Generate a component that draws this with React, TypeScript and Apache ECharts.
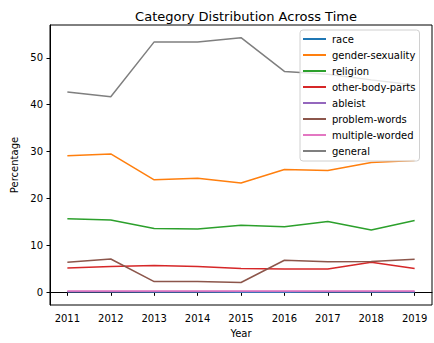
import React, { useEffect, useRef } from "react";
import * as echarts from "echarts";

const years = [2011, 2012, 2013, 2014, 2015, 2016, 2017, 2018, 2019];
const seriesNames = ["race", "gender-sexuality", "religion", "other-body-parts", "ableist", "problem-words", "multiple-worded", "general"];
const race = [0.1, 0.1, 0.05, 0.05, 0.0, 0.0, 0.05, 0.05, 0.05];
const genderSexuality = [29.1, 29.5, 24.0, 24.3, 23.3, 26.2, 26.0, 27.7, 28.1];
const religion = [15.7, 15.4, 13.6, 13.5, 14.3, 14.0, 15.1, 13.3, 15.3];
const otherBodyParts = [5.2, 5.5, 5.7, 5.5, 5.1, 5.0, 5.0, 6.4, 5.1];
const ableist = [0.2, 0.2, 0.2, 0.2, 0.2, 0.2, 0.2, 0.2, 0.2];
const problemWords = [6.4, 7.1, 2.3, 2.3, 2.1, 6.85, 6.5, 6.6, 7.07];
const multipleWorded = [0.3, 0.3, 0.3, 0.3, 0.3, 0.3, 0.3, 0.3, 0.3];
const general = [42.7, 41.7, 53.4, 53.4, 54.3, 47.1, 46.5, 45.3, 44.2];
const yTicks = [0, 10, 20, 30, 40, 50];
const colors = ["#1f77b4", "#ff7f0e", "#2ca02c", "#d62728", "#9467bd", "#8c564b", "#e377c2", "#7f7f7f"];

const allValues = [race, genderSexuality, religion, otherBodyParts, ableist, problemWords, multipleWorded, general];

export default function App() {
  const ref = useRef<HTMLDivElement>(null);
  useEffect(() => {
    if (!ref.current) return;
    const chart = echarts.init(ref.current, null, { renderer: "svg" });
    const font = "DejaVu Sans";
    chart.setOption({
      animation: false,
      textStyle: { fontFamily: font },
      title: {
        text: "Category Distribution Across Time",
        left: 241,
        top: 5,
        textAlign: "center",
        textStyle: { fontFamily: font, fontSize: 13, fontWeight: "normal", color: "#000" },
      },
      grid: { left: 50, top: 25, width: 382, height: 284, show: true, borderColor: "#000", borderWidth: 1, backgroundColor: "transparent" },
      legend: {
        orient: "vertical",
        left: 300,
        top: 30,
        padding: [3, 4, 4, 3],
        itemGap: 4,
        itemWidth: 23,
        itemHeight: 2,
        icon: "rect",
        backgroundColor: "rgba(255,255,255,0.8)",
        borderColor: "#d0d0d0",
        borderWidth: 1,
        borderRadius: 3,
        textStyle: { fontFamily: font, fontSize: 10, color: "#000", lineHeight: 12, padding: [0, 0, 0, 1] },
        data: seriesNames,
      },
      xAxis: {
        type: "value",
        min: 2010.6,
        max: 2019.4,
        name: "Year",
        nameLocation: "middle",
        nameGap: 23,
        nameTextStyle: { fontFamily: font, fontSize: 10, color: "#000" },
        axisLine: { show: true, lineStyle: { color: "#000", width: 1 } },
        axisTick: { show: true, length: 3.5, lineStyle: { color: "#000" }, customValues: years },
        axisLabel: { fontFamily: font, fontSize: 10, color: "#000", margin: 8, customValues: years, formatter: (v: number) => String(v) },
        splitLine: { show: false },
      },
      yAxis: {
        type: "value",
        min: -2.7,
        max: 57,
        name: "Percentage",
        nameLocation: "middle",
        nameGap: 22,
        nameTextStyle: { fontFamily: font, fontSize: 10, color: "#000" },
        axisLine: { show: true, lineStyle: { color: "#000", width: 1 } },
        axisTick: { show: true, length: 3.5, lineStyle: { color: "#000" }, customValues: yTicks },
        axisLabel: { fontFamily: font, fontSize: 10, color: "#000", margin: 7, customValues: yTicks },
        splitLine: { show: false },
      },
      series: seriesNames.map((name, i) => ({
        name,
        type: "line",
        showSymbol: false,
        symbol: "none",
        lineStyle: { width: 1.5, color: colors[i] },
        itemStyle: { color: colors[i] },
        data: years.map((y, j) => [y, allValues[i][j]]),
      })),
    });
    return () => chart.dispose();
  }, []);
  return <div ref={ref} style={{ width: 434, height: 343, position: "absolute", left: 0, top: 0 }} />;
}
